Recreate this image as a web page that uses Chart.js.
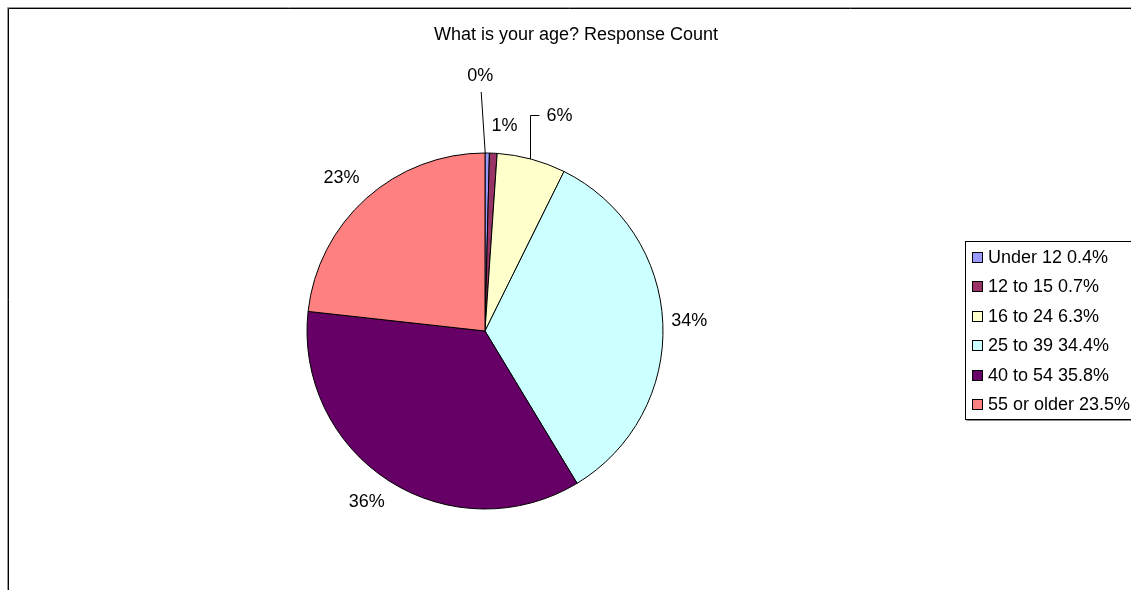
<!DOCTYPE html>
<html>
<head>
<meta charset="utf-8">
<title>What is your age? Response Count</title>
<script src="https://cdn.jsdelivr.net/npm/chart.js@4.4.1/dist/chart.umd.min.js"></script>
<style>
    body { margin: 0; background: #fff; }
    #age_chart { display: block; }
</style>
</head>
<body>
<canvas id="age_chart" width="1131" height="590"></canvas>
<script>
//Chart data
const categories = ['Under 12', '12 to 15', '16 to 24', '25 to 39', '40 to 54', '55 or older'];
const percentValues = [0.4, 0.7, 6.3, 34.4, 35.8, 23.5];
const sliceLabels = ['0%', '1%', '6%', '34%', '36%', '23%'];
const sliceColors = ['#9999FF', '#993366', '#FFFFCC', '#CCFFFF', '#660066', '#FF8080'];
const chartTitle = 'What is your age? Response Count';

const FONT = '18px "Liberation Sans", Arial, sans-serif';

//Labels that excel pulled away from the pie, with a leader line back to the slice
const callouts = {
    0: {dx: -7, dy: -77, leader: 'straight'},
    2: {dx: 28, dy: -43, leader: 'elbow'}
};

const frameAndText = {
    id: 'frameAndText',
    afterDraw: (chart) => {
        /*
            Draws the outer frame, the title, the slice labels and the boxed legend
        */
        const ctx = chart.ctx;
        ctx.save();
        //Outer frame, only top and left are inside the picture
        ctx.lineWidth = 1;
        ctx.strokeStyle = '#999';
        ctx.beginPath();
        ctx.moveTo(7.5, 590); ctx.lineTo(7.5, 7.5); ctx.lineTo(1131, 7.5);
        ctx.stroke();
        ctx.strokeStyle = '#000';
        ctx.beginPath();
        ctx.moveTo(8.5, 590); ctx.lineTo(8.5, 8.5); ctx.lineTo(1131, 8.5);
        ctx.stroke();

        ctx.font = FONT;
        ctx.fillStyle = '#000';
        ctx.textAlign = 'center';
        ctx.textBaseline = 'middle';
        ctx.fillText(chartTitle, 576, 35);

        //Slice labels
        const meta = chart.getDatasetMeta(0);
        meta.data.forEach((arc, i) => {
            const p = arc.getProps(['x', 'y', 'startAngle', 'endAngle', 'outerRadius'], true);
            const mid = (p.startAngle + p.endAngle) / 2;
            const ux = Math.cos(mid), uy = Math.sin(mid);
            const ex = p.x + ux * p.outerRadius, ey = p.y + uy * p.outerRadius;
            let lx, ly;
            if (callouts[i]){
                lx = ex + callouts[i].dx;
                ly = ey + callouts[i].dy;
                const tw = ctx.measureText(sliceLabels[i]).width;
                ctx.strokeStyle = '#000';
                ctx.lineWidth = 1;
                ctx.beginPath();
                if (callouts[i].leader == 'elbow'){
                    ctx.moveTo(Math.round(ex) - 0.5, ey);
                    ctx.lineTo(Math.round(ex) - 0.5, Math.round(ly) - 0.5);
                    ctx.lineTo(lx - tw / 2 - 7, Math.round(ly) - 0.5);
                }
                else{
                    ctx.moveTo(ex - 2, ey);
                    ctx.lineTo(lx + 1, ly + 16);
                }
                ctx.stroke();
            }
            else{
                //Label sits just outside the rim, pushed sideways like excel's best fit
                const dist = p.outerRadius + 26;
                lx = p.x + ux * dist + Math.sign(ux) * Math.abs(uy) * 10;
                ly = p.y + uy * dist - 1;
            }
            ctx.fillStyle = '#000';
            ctx.fillText(sliceLabels[i], lx, ly);
        });

        //Legend box on the right, centred on the pie
        const rowGap = 29.4;
        const boxTop = 241.5;
        const boxLeft = 965.5;
        const boxHeight = Math.round(rowGap * categories.length + 2);
        ctx.strokeStyle = '#888';
        ctx.beginPath();
        ctx.moveTo(boxLeft + 1, boxTop + boxHeight + 1);
        ctx.lineTo(1131, boxTop + boxHeight + 1);
        ctx.stroke();
        ctx.strokeStyle = '#000';
        ctx.lineWidth = 1;
        ctx.strokeRect(boxLeft, boxTop, 200, boxHeight);
        ctx.textAlign = 'left';
        categories.forEach((cat, i) => {
            const cy = 257 + i * rowGap;
            ctx.fillStyle = sliceColors[i];
            ctx.fillRect(972, Math.round(cy) - 5, 10, 10);
            ctx.strokeStyle = '#000';
            ctx.strokeRect(972.5, Math.round(cy) - 4.5, 10, 10);
            ctx.fillStyle = '#000';
            ctx.fillText(cat + ' ' + percentValues[i].toFixed(1) + '%', 988, cy + 1);
        });
        ctx.restore();
    }
};

const ageChart = new Chart('age_chart', {
    type: 'pie',
    data: {
        labels: categories,
        datasets: [{
            data: percentValues,
            backgroundColor: sliceColors,
            borderColor: '#000',
            borderWidth: 1
        }]
    },
    options: {
        responsive: false,
        animation: false,
        radius: 178,
        layout: {padding: {left: 307, right: 468, top: 153, bottom: 81}},
        plugins: {
            legend: {display: false},
            title: {display: false},
            tooltip: {enabled: false}
        }
    },
    plugins: [frameAndText]
});
</script>
</body>
</html>
